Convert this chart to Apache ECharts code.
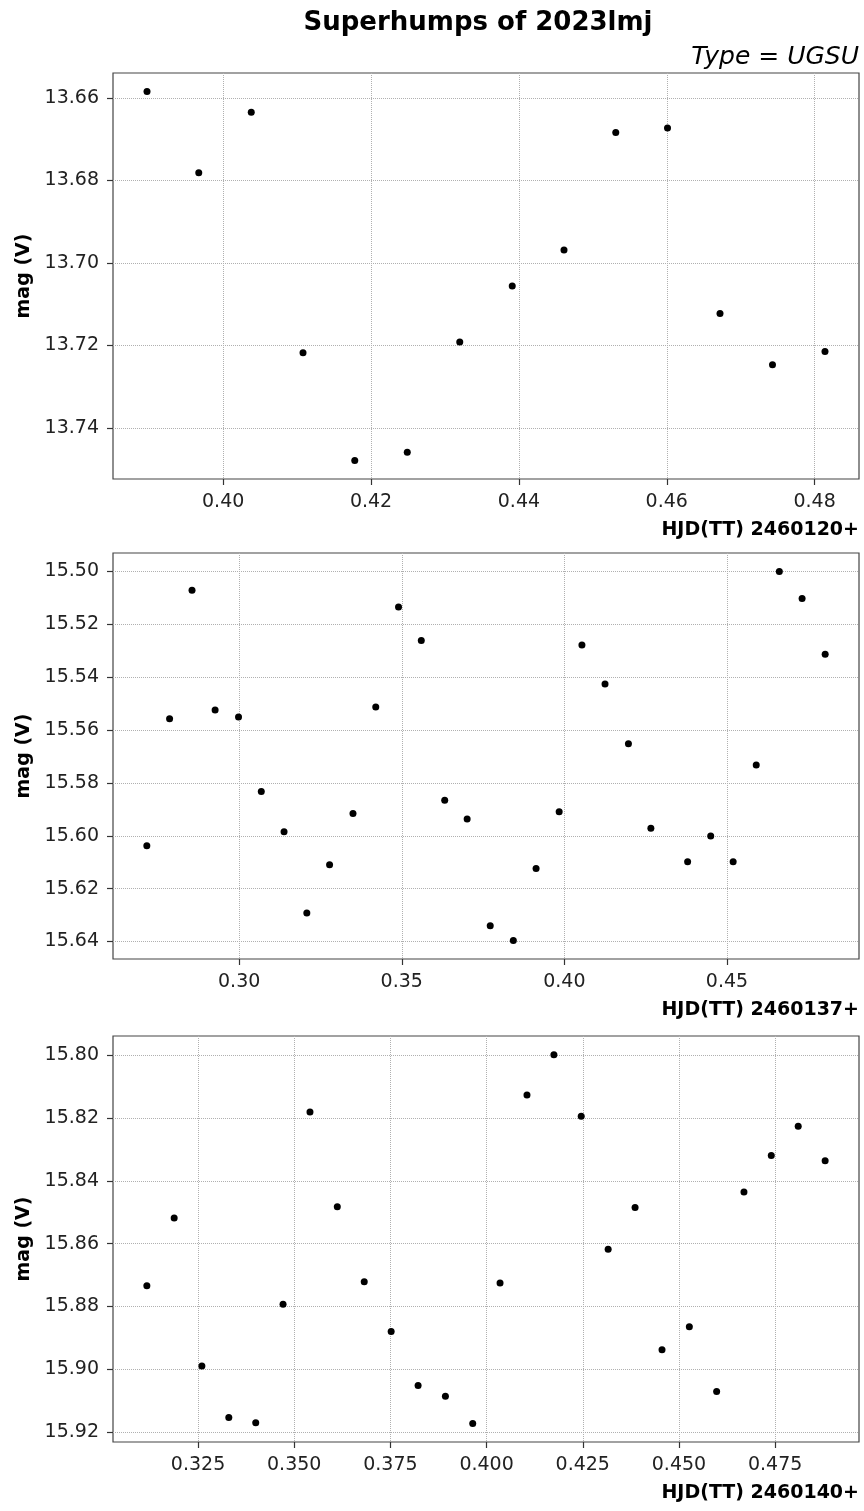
<!DOCTYPE html>
<html>
<head>
<meta charset="utf-8">
<title>Superhumps of 2023lmj</title>
<script src="https://cdn.jsdelivr.net/npm/echarts@6/dist/echarts.min.js"></script>
<style>
  html, body { margin: 0; padding: 0; background: #fff; }
  #main { width: 864px; height: 1511px; }
</style>
</head>
<body>
<div id="main"></div>
<script>
// HJD(TT) fraction and V magnitude, one pair of arrays per night
var hjd1 = [0.3897, 0.3967, 0.4038, 0.4108, 0.4178, 0.4249, 0.4320, 0.4391, 0.4461, 0.4531, 0.4601, 0.4672, 0.4743, 0.4814];
var mag1 = [13.6585, 13.6782, 13.6635, 13.7218, 13.7479, 13.7459, 13.7192, 13.7056, 13.6969, 13.6684, 13.6673, 13.7123, 13.7247, 13.7215];

var hjd2 = [0.2716, 0.2786, 0.2855, 0.2926, 0.2998, 0.3068, 0.3138, 0.3208, 0.3278, 0.3350, 0.3420, 0.3490, 0.3560, 0.3632, 0.3701,
            0.3772, 0.3843, 0.3913, 0.3984, 0.4054, 0.4125, 0.4197, 0.4266, 0.4379, 0.4450, 0.4519, 0.4590, 0.4661, 0.4731, 0.4802];
var mag2 = [15.6038, 15.5557, 15.5071, 15.5524, 15.5550, 15.5832, 15.5985, 15.6292, 15.6109, 15.5916, 15.5513, 15.5134, 15.5261, 15.5865, 15.5936,
            15.6340, 15.6396, 15.6124, 15.5909, 15.5278, 15.5426, 15.5652, 15.5971, 15.6098, 15.6001, 15.6098, 15.5732, 15.5000, 15.5102, 15.5313];

var hjd3 = [0.3117, 0.3188, 0.3260, 0.3330, 0.3400, 0.3471, 0.3541, 0.3612, 0.3682, 0.3752, 0.3822, 0.3893, 0.3964,
            0.4035, 0.4105, 0.4175, 0.4246, 0.4316, 0.4386, 0.4456, 0.4527, 0.4598, 0.4669, 0.4740, 0.4810, 0.4880];
var mag3 = [15.8734, 15.8518, 15.8990, 15.9154, 15.9171, 15.8793, 15.8180, 15.8482, 15.8721, 15.8880, 15.9052, 15.9086, 15.9173,
            15.8725, 15.8126, 15.7998, 15.8194, 15.8618, 15.8485, 15.8938, 15.8865, 15.9071, 15.8435, 15.8319, 15.8226, 15.8336];

// tick labels
var xTicks1 = [0.40, 0.42, 0.44, 0.46, 0.48];
var yTicks1 = [13.66, 13.68, 13.70, 13.72, 13.74];
var xTicks2 = [0.30, 0.35, 0.40, 0.45];
var yTicks2 = [15.50, 15.52, 15.54, 15.56, 15.58, 15.60, 15.62, 15.64];
var xTicks3 = [0.325, 0.350, 0.375, 0.400, 0.425, 0.450, 0.475];
var yTicks3 = [15.80, 15.82, 15.84, 15.86, 15.88, 15.90, 15.92];

// axis limits (matplotlib-style 5% margins)
var xLim = [[0.3851, 0.4860], [0.2612, 0.4906], [0.3029, 0.4968]];
var yLim = [[13.6540, 13.7524], [15.4930, 15.6466], [15.7938, 15.9232]];

var xLabels = ['HJD(TT) 2460120+', 'HJD(TT) 2460137+', 'HJD(TT) 2460140+'];

var FONT = '"DejaVu Sans", "Liberation Sans", sans-serif';
var panelTop = [73, 553, 1036];
var panelH = 406;
var axisColor = '#333';

function makeXAxis(i, ticks, dec) {
  return {
    type: 'value', gridIndex: i, min: xLim[i][0], max: xLim[i][1],
    axisLine: { show: false },
    axisTick: { show: true, length: 6, customValues: ticks, lineStyle: { color: axisColor, width: 1.2 } },
    axisLabel: {
      customValues: ticks, margin: 14, fontFamily: FONT, fontSize: 19, color: '#222',
      formatter: function (v) { return v.toFixed(dec); }
    },
    splitLine: { show: true, lineStyle: { color: '#b0b0b0', type: 'dotted', width: 1 } }
  };
}

function makeYAxis(i, ticks) {
  return {
    type: 'value', gridIndex: i, inverse: true, min: yLim[i][0], max: yLim[i][1],
    name: 'mag (V)', nameLocation: 'middle', nameGap: 78, nameRotate: 90,
    nameTextStyle: { fontFamily: FONT, fontSize: 19, fontWeight: 'bold', color: '#000' },
    axisLine: { show: false },
    axisTick: { show: true, length: 6, customValues: ticks, lineStyle: { color: axisColor, width: 1.2 } },
    axisLabel: {
      customValues: ticks, margin: 14, fontFamily: FONT, fontSize: 19, color: '#222',
      formatter: function (v) { return v.toFixed(2); }
    },
    splitLine: { show: true, lineStyle: { color: '#b0b0b0', type: 'dotted', width: 1 } }
  };
}

function pairs(xs, ys) {
  return xs.map(function (x, k) { return [x, ys[k]]; });
}

var grids = panelTop.map(function (t) {
  return { left: 113, width: 746, top: t, height: panelH, show: true,
           borderColor: '#444', borderWidth: 1.2, backgroundColor: 'transparent' };
});

var texts = [
  { type: 'text', x: 478, y: 23, style: { text: 'Superhumps of 2023lmj', font: 'bold 26px ' + FONT, fill: '#000',
    align: 'center', verticalAlign: 'middle', textAlign: 'center', textVerticalAlign: 'middle' } },
  { type: 'text', x: 859, y: 57, style: { text: 'Type = UGSU', font: 'italic 25px ' + FONT, fill: '#000',
    align: 'right', verticalAlign: 'middle', textAlign: 'right', textVerticalAlign: 'middle' } }
];
xLabels.forEach(function (s, i) {
  texts.push({ type: 'text', x: 859, y: panelTop[i] + panelH + 51, style: { text: s, font: 'bold 19px ' + FONT, fill: '#000',
    align: 'right', verticalAlign: 'middle', textAlign: 'right', textVerticalAlign: 'middle' } });
});

function scatter(i, xs, ys) {
  return { type: 'scatter', xAxisIndex: i, yAxisIndex: i, data: pairs(xs, ys),
           symbol: 'circle', symbolSize: 7, itemStyle: { color: '#000', opacity: 1 } };
}

var option = {
  animation: false,
  backgroundColor: '#fff',
  grid: grids,
  graphic: texts,
  xAxis: [makeXAxis(0, xTicks1, 2), makeXAxis(1, xTicks2, 2), makeXAxis(2, xTicks3, 3)],
  yAxis: [makeYAxis(0, yTicks1), makeYAxis(1, yTicks2), makeYAxis(2, yTicks3)],
  series: [scatter(0, hjd1, mag1), scatter(1, hjd2, mag2), scatter(2, hjd3, mag3)]
};

var myChart = echarts.init(document.getElementById('main'));
myChart.setOption(option);
</script>
</body>
</html>
